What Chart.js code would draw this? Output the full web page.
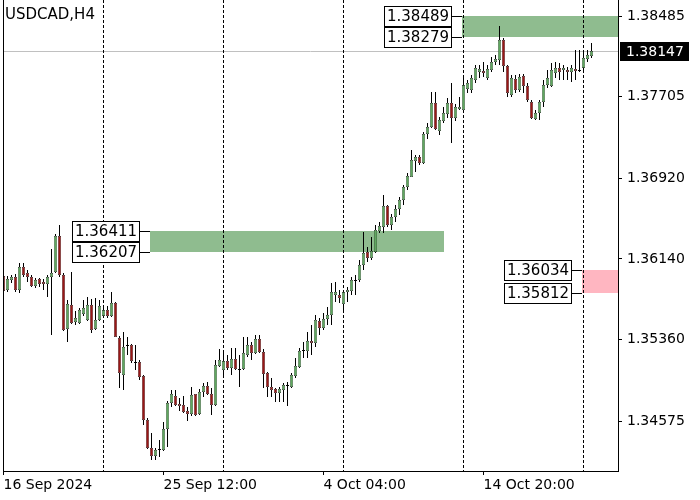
<!DOCTYPE html>
<html>
<head>
<meta charset="utf-8">
<script src="https://cdn.jsdelivr.net/npm/chart.js@4.4.1/dist/chart.umd.min.js"></script>
<style>
html,body{margin:0;padding:0;background:#ffffff;}
#wrap{width:700px;height:500px;position:relative;}
</style>
</head>
<body>
<div id="wrap"><canvas id="c" width="700" height="500"></canvas></div>
<script>
// ---------------- DATA ----------------
const symbolTitle = "USDCAD,H4";

const opens = [
1.35975,1.35840,1.35937,1.35966,1.35840,1.36062,1.36004,1.35966,1.35879,1.35947,
1.35918,1.35898,1.35966,1.36014,1.36362,1.35985,1.35464,1.35696,1.35531,1.35522,
1.35609,1.35551,1.35696,1.35464,1.35551,1.35589,1.35647,1.35589,1.35715,1.35377,
1.35020,1.35309,1.35309,1.35145,1.35145,1.35010,1.34585,1.34315,1.34238,1.34296,
1.34296,1.34498,1.34750,1.34817,1.34740,1.34730,1.34672,1.34643,1.34836,1.34643,
1.34856,1.34914,1.34836,1.34730,1.35107,1.35068,1.35155,1.35087,1.35174,1.35078,
1.35078,1.35213,1.35309,1.35232,1.35367,1.35242,1.35039,1.34904,1.34885,1.34846,
1.34875,1.34914,1.34904,1.35010,1.35097,1.35251,1.35251,1.35348,1.35329,1.35541,
1.35473,1.35560,1.35599,1.35792,1.35792,1.35705,1.35821,1.35831,1.35927,1.35937,
1.36081,1.36207,1.36149,1.36207,1.36410,1.36449,1.36651,1.36468,1.36545,1.36622,
1.36709,1.36835,1.36931,1.37086,1.37124,1.37066,1.37346,1.37414,1.37646,1.37375,
1.37472,1.37539,1.37646,1.37501,1.37588,1.37578,1.37781,1.37771,1.37868,1.37945,
1.37955,1.37887,1.37964,1.38041,1.38061,1.38254,1.38003,1.37723,1.37877,1.37771,
1.37906,1.37810,1.37655,1.37491,1.37549,1.37655,1.37819,1.37810,1.37935,1.37983,
1.37964,1.37964,1.37945,1.37974,1.37955,1.37983,1.38070,1.38099
];
const highs = [
1.35985,1.35975,1.35985,1.35995,1.36101,1.36101,1.36033,1.35985,1.35956,1.35956,
1.35947,1.35985,1.36236,1.36381,1.36468,1.36004,1.35744,1.36014,1.35638,1.35667,
1.35744,1.35773,1.35754,1.35763,1.35744,1.35667,1.35686,1.35821,1.35725,1.35396,
1.35435,1.35387,1.35319,1.35309,1.35165,1.35020,1.34605,1.34460,1.34315,1.34392,
1.34566,1.34769,1.34875,1.34875,1.34798,1.34817,1.34711,1.34904,1.34836,1.34885,
1.34943,1.34952,1.34894,1.35165,1.35271,1.35232,1.35213,1.35280,1.35280,1.35213,
1.35387,1.35387,1.35338,1.35406,1.35406,1.35271,1.35049,1.34991,1.34894,1.34904,
1.34943,1.34952,1.35039,1.35184,1.35280,1.35338,1.35435,1.35502,1.35599,1.35570,
1.35618,1.35676,1.35908,1.35918,1.35840,1.35840,1.35869,1.35966,1.35985,1.36130,
1.36400,1.36255,1.36352,1.36468,1.36497,1.36757,1.36661,1.36574,1.36661,1.36738,
1.36854,1.36970,1.37192,1.37144,1.37144,1.37366,1.37453,1.37752,1.37752,1.37511,
1.37607,1.37694,1.37839,1.37636,1.37704,1.37887,1.37868,1.37916,1.38012,1.38012,
1.38041,1.38012,1.38090,1.38109,1.38389,1.38273,1.38012,1.37916,1.37916,1.37926,
1.37926,1.37839,1.37675,1.37578,1.37675,1.37868,1.37964,1.38032,1.38041,1.38032,
1.38012,1.37993,1.38012,1.38157,1.38157,1.38157,1.38157,1.38225
];
const lows = [
1.35821,1.35821,1.35908,1.35821,1.35811,1.35966,1.35918,1.35869,1.35860,1.35869,
1.35840,1.35773,1.35406,1.36004,1.35966,1.35444,1.35338,1.35512,1.35502,1.35512,
1.35589,1.35541,1.35425,1.35454,1.35541,1.35570,1.35570,1.35580,1.35387,1.34894,
1.34875,1.35213,1.35136,1.35068,1.34972,1.34537,1.34305,1.34199,1.34199,1.34228,
1.34286,1.34325,1.34711,1.34721,1.34672,1.34653,1.34576,1.34624,1.34624,1.34634,
1.34807,1.34827,1.34634,1.34721,1.35097,1.35020,1.35068,1.35020,1.35068,1.34904,
1.35068,1.35193,1.35165,1.35222,1.35232,1.34894,1.34807,1.34807,1.34759,1.34759,
1.34759,1.34721,1.34894,1.34991,1.35087,1.35184,1.35184,1.35213,1.35290,1.35406,
1.35454,1.35502,1.35502,1.35725,1.35715,1.35647,1.35725,1.35792,1.35792,1.35918,
1.36033,1.36110,1.36130,1.36197,1.36391,1.36391,1.36449,1.36420,1.36497,1.36564,
1.36661,1.36806,1.36931,1.36979,1.37047,1.37057,1.37298,1.37404,1.37385,1.37337,
1.37453,1.37501,1.37260,1.37472,1.37578,1.37549,1.37742,1.37742,1.37839,1.37887,
1.37897,1.37868,1.37945,1.38012,1.38012,1.37945,1.37704,1.37704,1.37742,1.37752,
1.37742,1.37655,1.37491,1.37482,1.37482,1.37607,1.37790,1.37800,1.37887,1.37868,
1.37868,1.37868,1.37849,1.37868,1.37945,1.37964,1.38041,1.38080
];
const closes = [
1.35831,1.35947,1.35966,1.35840,1.36062,1.35985,1.35966,1.35879,1.35937,1.35898,
1.35898,1.35966,1.36004,1.36362,1.35985,1.35454,1.35705,1.35522,1.35570,1.35647,
1.35667,1.35696,1.35454,1.35551,1.35686,1.35647,1.35589,1.35715,1.35387,1.35039,
1.35290,1.35300,1.35155,1.35136,1.35000,1.34585,1.34315,1.34238,1.34296,1.34305,
1.34498,1.34750,1.34836,1.34730,1.34721,1.34663,1.34643,1.34827,1.34634,1.34856,
1.34914,1.34836,1.34730,1.35116,1.35165,1.35155,1.35087,1.35174,1.35078,1.35068,
1.35232,1.35309,1.35232,1.35367,1.35242,1.35029,1.34904,1.34875,1.34846,1.34885,
1.34923,1.34923,1.35020,1.35107,1.35251,1.35261,1.35348,1.35329,1.35551,1.35473,
1.35560,1.35599,1.35821,1.35821,1.35763,1.35821,1.35840,1.35937,1.35937,1.36081,
1.36197,1.36149,1.36217,1.36420,1.36458,1.36651,1.36468,1.36545,1.36622,1.36709,
1.36835,1.36941,1.37095,1.37124,1.37066,1.37346,1.37414,1.37646,1.37395,1.37482,
1.37549,1.37646,1.37501,1.37607,1.37607,1.37819,1.37839,1.37887,1.37983,1.37974,
1.37935,1.37974,1.38041,1.38070,1.38254,1.38003,1.37742,1.37887,1.37771,1.37897,
1.37810,1.37675,1.37501,1.37549,1.37655,1.37819,1.37887,1.37964,1.37983,1.37945,
1.37983,1.37945,1.37983,1.37955,1.37964,1.38080,1.38109,1.38147
];

// time axis: bar index of each date label, and the labels
const xLabelBars = [0, 40, 80, 120];
const xLabels = ["16 Sep 2024", "25 Sep 12:00", "4 Oct 04:00", "14 Oct 20:00"];
// bar index of each vertical (period separator) grid line
const separatorBars = [25, 55, 85, 115, 145];
// price axis ticks
const priceTicks = [1.38485, 1.37705, 1.36920, 1.36140, 1.35360, 1.34575];
const currentPrice = 1.38147;

// zones: start bar, end bar (null = extends to the right edge), upper and lower price, kind
const zoneStartBar = [37, 115, 145];
const zoneEndBar   = [110, null, null];
const zoneUpper    = [1.36411, 1.38489, 1.36034];
const zoneLower    = [1.36207, 1.38279, 1.35812];
const zoneKind     = ["demand", "demand", "supply"];

// ---------------- STYLE ----------------
const FONT = '"DejaVu Sans", Verdana, sans-serif';
const BULL = '#5fa85f';
const BEAR = '#9a1717';
const ZONE_FILL = { demand: '#8fbc8f', supply: '#ffb6c1' };

Chart.defaults.font.family = FONT;
Chart.defaults.color = '#000';

const bodyData = closes.map((c, i) => ({ x: i, y: [opens[i], c] }));
const upperWick = closes.map((c, i) => ({ x: i, y: [Math.max(opens[i], c), highs[i]] }));
const lowerWick = closes.map((c, i) => ({ x: i, y: [lows[i], Math.min(opens[i], c)] }));
const bodyColors = closes.map((c, i) => (c >= opens[i] ? BULL : BEAR));

const X_MIN = -0.125, X_MAX = 153.625;
const Y_MIN = 1.34093, Y_MAX = 1.38640;

const overlay = {
  id: 'overlay',
  beforeDraw(chart) {
    const { ctx, chartArea: a, scales: { x, y } } = chart;
    ctx.save();
    ctx.beginPath();
    ctx.rect(a.left, a.top, a.right - a.left, a.bottom - a.top);
    ctx.clip();
    zoneStartBar.forEach((s, k) => {
      const x0 = Math.round(x.getPixelForValue(s) - 2);
      const x1 = zoneEndBar[k] === null ? a.right : Math.round(x.getPixelForValue(zoneEndBar[k]));
      const y0 = Math.round(y.getPixelForValue(zoneUpper[k]));
      const y1 = Math.round(y.getPixelForValue(zoneLower[k]));
      ctx.fillStyle = ZONE_FILL[zoneKind[k]];
      ctx.fillRect(x0, y0, x1 - x0, y1 - y0);
    });
    const py = Math.round(y.getPixelForValue(currentPrice)) + 0.5;
    ctx.strokeStyle = '#c0c0c0';
    ctx.lineWidth = 1;
    ctx.beginPath();
    ctx.moveTo(a.left, py);
    ctx.lineTo(a.right, py);
    ctx.stroke();
    ctx.restore();
  },
  afterDraw(chart) {
    const { ctx, chartArea: a, scales: { x, y } } = chart;
    ctx.save();
    // left frame line
    ctx.strokeStyle = '#000';
    ctx.lineWidth = 1;
    ctx.beginPath();
    ctx.moveTo(a.left + 0.5, a.top);
    ctx.lineTo(a.left + 0.5, a.bottom);
    ctx.stroke();

    // zone price labels
    ctx.font = '15px ' + FONT;
    ctx.textBaseline = 'middle';
    ctx.textAlign = 'left';
    zoneStartBar.forEach((s, k) => {
      const zx = Math.round(x.getPixelForValue(s) - 2);
      const bx1 = zx - 10, bx0 = bx1 - 68;
      [zoneUpper[k], zoneLower[k]].forEach((lvl) => {
        const ly = Math.round(y.getPixelForValue(lvl));
        const top = ly - 10;
        ctx.fillStyle = '#fff';
        ctx.fillRect(bx0, top, bx1 - bx0, 21);
        ctx.strokeStyle = '#000';
        ctx.strokeRect(bx0 + 0.5, top + 0.5, bx1 - bx0 - 1, 20);
        ctx.beginPath();
        ctx.moveTo(bx1, ly + 0.5);
        ctx.lineTo(zx, ly + 0.5);
        ctx.stroke();
        ctx.fillStyle = '#000';
        ctx.fillText(lvl.toFixed(5), bx0 + 3, ly + 1);
      });
    });

    // current price tag
    const py = Math.round(y.getPixelForValue(currentPrice));
    ctx.fillStyle = '#000';
    ctx.fillRect(a.right + 2, py - 9, 69, 19);
    ctx.fillStyle = '#fff';
    ctx.font = '14px ' + FONT;
    ctx.fillText(currentPrice.toFixed(5), a.right + 8, py + 1);

    // title
    ctx.fillStyle = '#000';
    ctx.font = '15px ' + FONT;
    ctx.fillText(symbolTitle, 5, 15);
    ctx.restore();
  }
};

const wickStyle = {
  backgroundColor: '#000',
  borderWidth: 0,
  barThickness: 1,
  grouped: false,
  inflateAmount: 0,
  order: 2
};

new Chart(document.getElementById('c'), {
  type: 'bar',
  data: {
    datasets: [
      {
        label: 'body',
        data: bodyData,
        backgroundColor: bodyColors,
        borderColor: '#000',
        borderWidth: 0.5,
        borderSkipped: false,
        barThickness: 3,
        grouped: false,
        inflateAmount: 0,
        order: 0
      },
      Object.assign({ label: 'upper wick', data: upperWick }, wickStyle),
      Object.assign({ label: 'lower wick', data: lowerWick }, wickStyle)
    ]
  },
  options: {
    responsive: false,
    animation: false,
    devicePixelRatio: 1,
    layout: { padding: { left: 3, top: 0, right: 0, bottom: 0 } },
    plugins: { legend: { display: false }, tooltip: { enabled: false }, title: { display: false } },
    scales: {
      x: {
        type: 'linear',
        position: 'bottom',
        min: X_MIN,
        max: X_MAX,
        offset: false,
        afterBuildTicks: (s) => { s.ticks = xLabelBars.map(v => ({ value: v })); },
        afterFit: (s) => { s.height = 29; s.paddingLeft = 0; s.paddingRight = 0; },
        ticks: {
          callback: (v) => xLabels[xLabelBars.indexOf(v)],
          align: 'start',
          autoSkip: false,
          maxRotation: 0,
          minRotation: 0,
          padding: 2,
          color: '#000',
          font: { size: 14, family: FONT }
        },
        grid: { offset: false, drawOnChartArea: false, drawTicks: true, tickLength: 4, tickColor: '#000', color: '#000' },
        border: { display: true, color: '#000', width: 1 }
      },
      sep: {
        type: 'linear',
        position: 'top',
        min: X_MIN,
        max: X_MAX,
        offset: false,
        afterBuildTicks: (s) => { s.ticks = separatorBars.map(v => ({ value: v })); },
        afterFit: (s) => { s.height = 0; s.paddingLeft = 0; s.paddingRight = 0; },
        ticks: { display: false },
        grid: { offset: false, drawOnChartArea: true, drawTicks: false, color: '#000', lineWidth: 1, borderDash: [3, 2] },
        border: { display: false, dash: [3, 2] }
      },
      y: {
        type: 'linear',
        position: 'right',
        min: Y_MIN,
        max: Y_MAX,
        afterBuildTicks: (s) => { s.ticks = priceTicks.map(v => ({ value: v })); },
        afterFit: (s) => { s.width = 82; s.paddingTop = 0; s.paddingBottom = 0; },
        ticks: {
          callback: (v) => v.toFixed(5),
          padding: 5,
          color: '#000',
          font: { size: 14, family: FONT }
        },
        grid: { drawOnChartArea: false, drawTicks: true, tickLength: 4, tickColor: '#000', color: '#000' },
        border: { display: true, color: '#000', width: 1 }
      }
    }
  },
  plugins: [overlay]
});
</script>
</body>
</html>
